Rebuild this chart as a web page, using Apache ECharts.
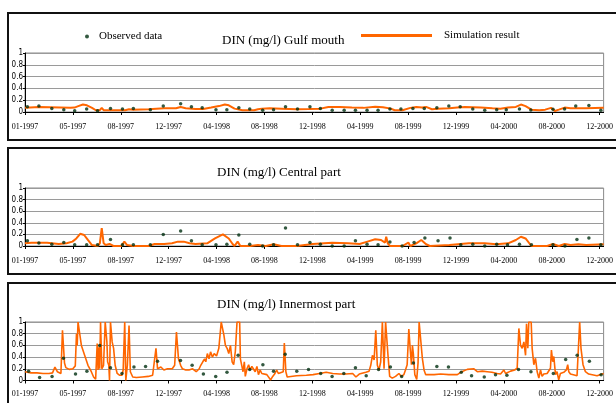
<!DOCTYPE html>
<html><head><meta charset="utf-8">
<script src="https://cdn.jsdelivr.net/npm/echarts@6/dist/echarts.min.js"></script>
<style>html,body{margin:0;padding:0;background:#fff}#c{width:616px;height:403px}</style>
</head><body><div id="c"></div>
<script>
// x axis: category-like time index, one tick label every 4 units
const xTickLabels = ['01-1997','05-1997','08-1997','12-1997','04-1998','08-1998','12-1998','04-1999','08-1999','12-1999','04-2000','08-2000','12-2000'];
const panelTitles = ['DIN (mg/l) Gulf mouth','DIN (mg/l) Central part','DIN (mg/l) Innermost part'];
const obsName = 'Observed data';
const simName = 'Simulation result';

// [time index, DIN mg/l]
const gulfSim = [[0,0.07],[1.19,0.085],[3.8,0.07],[4.13,0.075],[4.45,0.1],[4.84,0.126],[5.17,0.114],[5.6,0.07],[5.92,0.03],[6.25,0.03],[6.41,0.07],[6.57,0.03],[7.06,0.03],[8.37,0.03],[8.69,0.046],[9.02,0.04],[10.33,0.046],[10.98,0.057],[11.63,0.063],[12.61,0.063],[13.0,0.086],[13.42,0.063],[14.24,0.05],[14.89,0.05],[15.55,0.075],[16.2,0.1],[16.69,0.126],[17.02,0.114],[17.5,0.057],[18.16,0.03],[19.14,0.03],[19.46,0.046],[19.79,0.057],[20.44,0.063],[21.42,0.057],[22.72,0.046],[23.7,0.05],[24.68,0.057],[25.34,0.086],[26.3,0.086],[27.3,0.075],[28.27,0.07],[29.25,0.09],[29.9,0.08],[30.56,0.057],[30.88,0.03],[31.53,0.03],[32.19,0.07],[32.68,0.086],[33.17,0.075],[33.5,0.086],[33.99,0.046],[34.48,0.057],[35.45,0.063],[36.11,0.075],[36.76,0.086],[38.06,0.075],[39.04,0.063],[39.7,0.057],[40.35,0.075],[41.0,0.086],[41.42,0.126],[41.81,0.1],[42.3,0.04],[42.96,0.03],[43.45,0.04],[43.94,0.07],[44.26,0.017],[44.59,0.04],[45.08,0.075],[45.57,0.063],[46.87,0.063],[48.34,0.07]];
const gulfObs = [[0.2,0.09],[1.16,0.1],[2.24,0.06],[3.24,0.04],[4.15,0.02],[5.15,0.05],[6.06,0.02],[7.14,0.06],[8.14,0.05],[9.05,0.06],[10.47,0.04],[11.55,0.1],[13.0,0.14],[13.9,0.09],[14.8,0.07],[15.95,0.04],[16.86,0.04],[17.86,0.07],[18.77,0.05],[19.85,0.03],[20.76,0.04],[21.76,0.09],[22.76,0.05],[23.8,0.09],[24.67,0.06],[25.66,0.03],[26.66,0.03],[27.6,0.03],[28.57,0.03],[29.49,0.03],[30.48,0.05],[31.4,0.05],[32.4,0.06],[33.35,0.06],[34.4,0.07],[35.4,0.1],[36.35,0.09],[37.4,0.05],[38.4,0.03],[39.4,0.04],[40.2,0.04],[41.3,0.05],[42.25,0.035],[44.1,0.045],[45.07,0.05],[46.0,0.1],[47.1,0.11],[48.1,0.03]];

const centralSim = [[0,0.046],[0.54,0.058],[1.84,0.058],[2.82,0.035],[3.47,0.046],[3.96,0.075],[4.29,0.13],[4.61,0.21],[4.94,0.19],[5.27,0.1],[5.59,0.017],[6.08,0.0],[6.25,0.046],[6.41,0.31],[6.57,0.046],[6.74,0.017],[7.06,0.035],[7.39,0.0],[8.04,0.0],[8.3,0.075],[8.53,0.017],[9.02,0.0],[10.33,0.0],[10.82,0.035],[11.63,0.035],[12.28,0.046],[12.77,0.075],[13.26,0.075],[13.75,0.046],[14.24,0.035],[15.22,0.046],[15.87,0.13],[16.53,0.2],[17.02,0.13],[17.34,0.035],[17.5,0.0],[17.76,0.075],[17.99,0.0],[18.81,0.0],[19.46,0.017],[20.12,0.0],[20.77,0.03],[21.42,0.0],[22.72,0.0],[24.03,0.035],[25.66,0.058],[26.97,0.046],[27.95,0.035],[28.6,0.075],[29.25,0.115],[29.74,0.104],[30.07,0.058],[30.17,0.16],[30.3,0.046],[30.49,0.0],[31.53,0.0],[32.02,0.058],[32.19,0.0],[32.68,0.046],[33.1,0.104],[33.5,0.03],[33.82,0.0],[35.45,0.017],[37.08,0.046],[38.39,0.046],[39.37,0.03],[40.35,0.046],[41.0,0.104],[41.42,0.16],[41.81,0.13],[42.3,0.0],[43.61,0.0],[44.1,0.035],[44.59,0.0],[45.08,0.035],[45.57,0.017],[46.22,0.03],[46.87,0.017],[48.34,0.03]];
const centralObs = [[0.2,0.09],[1.16,0.05],[2.24,0.03],[3.24,0.06],[4.15,0.02],[5.15,0.02],[6.06,0.02],[7.14,0.11],[8.14,0.02],[9.05,0.02],[10.47,0.02],[11.55,0.2],[13.0,0.26],[13.9,0.09],[14.8,0.02],[15.95,0.02],[16.86,0.03],[17.86,0.19],[18.77,0.03],[19.85,0.0],[20.76,0.02],[21.76,0.31],[22.76,0.02],[23.8,0.06],[24.67,0.03],[25.66,0.0],[26.66,0.0],[27.6,0.09],[28.57,0.03],[29.49,0.02],[30.48,0.07],[31.5,0.0],[32.5,0.06],[33.4,0.14],[34.5,0.09],[35.5,0.14],[36.4,0.02],[37.4,0.03],[38.4,0.0],[39.4,0.03],[40.3,0.02],[41.3,0.03],[42.3,0.02],[44.1,0.02],[45.1,0.0],[46.1,0.11],[47.1,0.14],[48.1,0.02]];

const innerSim = [[0,0.15],[0.5,0.13],[1.0,0.13],[1.5,0.12],[2.0,0.12],[2.3,0.13],[2.5,0.23],[2.7,0.15],[3.0,0.12],[3.13,0.86],[3.3,0.3],[3.41,0.22],[3.7,0.19],[4.0,0.2],[4.2,0.25],[4.3,0.8],[4.36,0.6],[4.43,1.0],[4.57,1.0],[4.71,0.6],[4.98,0.43],[5.26,0.26],[5.54,0.15],[5.73,0.06],[5.9,0.02],[6.0,0.04],[6.03,0.63],[6.1,0.18],[6.17,0.57],[6.24,0.2],[6.31,1.0],[6.42,0.2],[6.56,0.26],[6.7,1.0],[6.84,0.66],[6.9,0.32],[7.0,0.26],[7.06,0],[7.14,1.0],[7.28,0.66],[7.4,0.55],[7.53,0.26],[7.7,0.12],[7.89,0.09],[8.1,0.09],[8.2,0.18],[8.33,1.0],[8.42,0],[8.55,0.26],[8.69,0.94],[8.8,0.15],[9.0,0.06],[9.3,0.05],[9.8,0.06],[10.3,0.07],[10.66,0.09],[10.8,0.12],[10.94,0.55],[11.07,0.2],[11.21,0.18],[11.35,0.23],[11.6,0.18],[11.9,0.2],[12.3,0.2],[12.5,0.26],[12.65,0.83],[12.82,0.37],[13.0,0.26],[13.15,0.2],[13.43,0.18],[13.7,0.18],[14.0,0.2],[14.3,0.15],[14.55,0.2],[14.68,0.26],[14.85,0.32],[15.0,0.37],[15.1,0.32],[15.23,0.46],[15.37,0.37],[15.5,0.49],[15.65,0.4],[15.8,0.46],[16.0,0.42],
[16.19,0.55],[16.39,1.0],[16.5,1.0],[16.61,0.78],[16.74,0.6],[16.88,0.55],[17.02,0.46],[17.16,0.6],[17.3,0.32],[17.43,0.27],[17.57,0.5],[17.71,1.0],[17.93,1.0],[17.99,0.37],[18.12,0.24],[18.21,0.15],[18.32,0.32],[18.4,0.07],[18.54,0.2],[18.68,0.27],[18.81,0.18],[18.95,0.24],[19.09,0.27],[19.23,0.15],[19.37,0.24],[19.5,0.1],[19.64,0.18],[19.78,0.12],[19.92,0.15],[20.2,0.1],[20.33,0.07],[20.52,0.01],[20.69,0.07],[20.88,0.12],[21.02,0.18],[21.16,0.12],[21.3,0.1],[21.57,0.15],[21.66,0.64],[21.79,0.15],[21.9,0.06],[22.68,0.08],[23.5,0.09],[24.06,0.1],[24.6,0.12],[25.16,0.14],[25.7,0.12],[26.26,0.11],[26.8,0.11],[27.37,0.12],[27.5,0.09],[27.64,0.06],[27.92,0.11],[28.47,0.14],[28.74,0.16],[28.88,0.26],[29.02,0.43],[29.16,0.35],[29.3,0.86],[29.43,0.26],[29.57,0.18],[29.71,0.32],[29.85,1.0],[29.99,0.2],[30.12,1.0],[30.21,1.0],[30.32,0.43],[30.46,0.07],[30.68,0.04],[30.95,0.07],[31.23,0.12],[31.44,0.07],[31.64,0.1],[31.78,0.18],[31.92,0.27],
[32.06,0.88],[32.17,0.55],[32.28,0.27],[32.36,0.6],[32.44,0.45],[32.56,0.1],[32.72,0.02],[32.83,0.3],[32.92,1.0],[33.06,1.0],[33.19,0.38],[33.33,0.18],[33.47,0.1],[33.61,0.07],[34.17,0.1],[34.72,0.11],[35.4,0.1],[36.11,0.1],[36.39,0.14],[36.94,0.19],[37.5,0.2],[37.78,0.15],[38.2,0.16],[38.61,0.15],[39.0,0.14],[39.44,0.12],[39.72,0.11],[40.0,0.18],[40.14,0.12],[40.56,0.16],[40.9,0.18],[41.11,0.21],[41.25,0.89],[41.39,0.6],[41.53,0.55],[41.67,0.66],[41.81,0.43],[41.89,0.97],[42.0,0.55],[42.08,1.0],[42.28,1.0],[42.36,0.55],[42.5,0.27],[42.64,0.38],[42.78,0.15],[42.92,0.04],[43.06,0.18],[43.19,0.07],[43.33,0.11],[43.61,0.12],[43.89,0.21],[43.97,0.52],[44.08,0.32],[44.17,0.41],[44.31,0.1],[44.44,0.15],[44.58,0.01],[44.72,0.12],[45.0,0.14],[45.22,0.18],[45.33,0.27],[45.42,0.15],[45.56,0.11],[46.11,0.08],[46.25,0.1],[46.33,1.0],[46.44,0.55],[46.61,0.27],[46.81,0.15],[47.08,0.11],[47.78,0.08],[48.33,0.12]];
const innerObs = [[0.3,0.16],[1.22,0.05],[2.26,0.07],[3.21,0.38],[4.22,0.11],[5.17,0.16],[6.24,0.6],[7.14,0.22],[8.1,0.12],[9.1,0.23],[10.07,0.24],[11.07,0.33],[12.99,0.34],[13.96,0.26],[14.9,0.11],[15.93,0.07],[16.87,0.14],[17.8,0.43],[18.77,0.19],[19.87,0.27],[20.76,0.16],[21.73,0.45],[22.7,0.16],[23.68,0.19],[24.7,0.12],[25.65,0.07],[26.63,0.12],[27.6,0.22],[28.5,0.08],[29.53,0.19],[30.52,0.23],[31.46,0.07],[32.44,0.3],[34.4,0.24],[35.37,0.23],[36.44,0.14],[37.3,0.08],[38.36,0.06],[39.3,0.1],[40.25,0.09],[41.22,0.19],[42.26,0.15],[44.13,0.12],[45.16,0.36],[46.12,0.43],[47.14,0.33],[48.12,0.1]];

const simSets = [gulfSim, centralSim, innerSim];
const obsSets = [gulfObs, centralObs, innerObs];

const layout = [
  {top:53, height:59, titleLeft:222, titleTop:34.5, lblMargin:11, box:[8,13,127]},
  {top:188, height:58, titleLeft:217, titleTop:166.5, lblMargin:11, box:[8,148,126]},
  {top:322, height:58.5, titleLeft:217, titleTop:298, lblMargin:9, box:[8,283,140]}
];
const serif = "'Liberation Serif','Times New Roman',serif";
const narrow = "'Liberation Sans Narrow','DejaVu Sans Condensed','Liberation Sans',sans-serif";
const tickPos = xTickLabels.map((_, i) => i * 4);

const chart = echarts.init(document.getElementById('c'), null, {renderer:'canvas'});
const option = {
  animation: false,
  backgroundColor: '#fff',
  title: layout.map((l, i) => ({
    text: panelTitles[i], left: l.titleLeft, top: l.titleTop, padding: 0,
    textStyle: {fontFamily: serif, fontSize: 13, fontWeight: 'normal', color: '#000'}
  })),
  legend: [
    {data:[obsName], left:85, top:31, padding:0, itemWidth:14, itemHeight:4, icon:'circle',
     textStyle:{fontFamily:serif, fontSize:11, color:'#000'}},
    {data:[simName], left:361, top:30, padding:0, itemWidth:71, itemHeight:3, icon:'rect',
     textStyle:{fontFamily:serif, fontSize:11, color:'#000', padding:[0,0,0,7]}}
  ],
  graphic: layout.map(l => ({
    type:'rect', shape:{x:l.box[0], y:l.box[1], width:640, height:l.box[2]},
    style:{fill:null, stroke:'#111', lineWidth:2}, silent:true, z:-1
  })),
  grid: layout.map(l => ({left:25, top:l.top, width:582, height:l.height, show:true,
    borderColor:'#8a8a8a', borderWidth:1, backgroundColor:'rgba(0,0,0,0)'})),
  xAxis: layout.map((l, i) => ({
    type:'value', gridIndex:i, min:0, max:48.33,
    axisLine:{show:true, lineStyle:{color:'#000', width:1}},
    axisTick:{show:true, length:3, customValues:tickPos, lineStyle:{color:'#000'}},
    axisLabel:{customValues:tickPos, margin:l.lblMargin, fontFamily:serif, fontSize:8, color:'#000',
      formatter: v => xTickLabels[Math.round(v/4)] || ''},
    splitLine:{show:false}
  })),
  yAxis: layout.map((l, i) => ({
    type:'value', gridIndex:i, min:0, max:1, interval:0.2,
    axisLine:{show:true, lineStyle:{color:'#000', width:1}},
    axisTick:{show:true, length:2, lineStyle:{color:'#000'}},
    axisLabel:{margin:2, fontFamily:narrow, fontSize:8, color:'#000'},
    splitLine:{show:true, lineStyle:{color:'#9a9a9a', width:1}}
  })),
  series: [].concat(
    simSets.map((d, i) => ({
      name: simName, type:'line', xAxisIndex:i, yAxisIndex:i, data:d,
      showSymbol:false, symbol:'none', clip:true,
      lineStyle:{color:'#ff6600', width: i === 2 ? 1.6 : 2},
      itemStyle:{color:'#ff6600'}, z:2
    })),
    obsSets.map((d, i) => ({
      name: obsName, type:'scatter', xAxisIndex:i, yAxisIndex:i, data:d,
      symbol:'circle', symbolSize:3.5, itemStyle:{color:'#003010'}, z:3
    }))
  )
};
chart.setOption(option);
</script>
</body></html>
